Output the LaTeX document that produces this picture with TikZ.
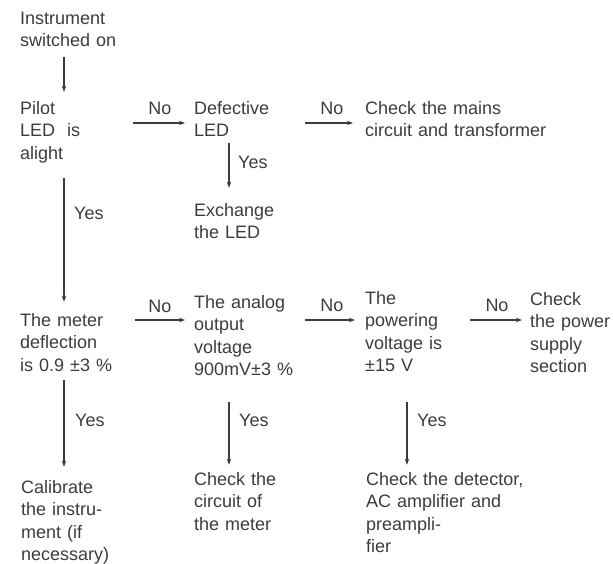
\documentclass[tikz,border=0pt]{standalone}
\usepackage{fontspec}
\setmainfont{Liberation Sans}
\usetikzlibrary{arrows.meta}
\definecolor{ink}{HTML}{3C3C3C}
\begin{document}
\begin{tikzpicture}[x=1pt,y=-1pt,
  txt/.style={inner sep=0pt, anchor=base west, align=left, text=ink, font=\fontsize{18}{22.5}\selectfont},
  colA/.style={txt, text width=113pt},
  colB/.style={txt, text width=111pt},
  colC/.style={txt, text width=105pt},
  colD/.style={txt, text width=83pt},
  colW/.style={txt, text width=200pt},
  lab/.style={inner sep=0pt, text=ink, font=\fontsize{18}{22.5}\selectfont},
  arr/.style={draw=ink, line width=1.1pt, -{Stealth[length=6pt,width=4.5pt]}}]
\useasboundingbox (0,0) rectangle (613,563);
% nodes
\node[colA] (instr) at (20,24) {Instrument\\switched on};
\node[colA] (pilot) at (20,114) {Pilot\\LED\ \ is\\alight};
\node[colB] (defect) at (194,114) {Defective\\LED};
\node[colW] (mains) at (365,114) {Check the mains\\circuit and transformer};
\node[colB] (exch) at (194,216) {Exchange\\the LED};
\node[colA] (meter) at (20,326) {The meter\\deflection\\is 0.9 ±3 \%};
\node[colB] (analog) at (194,308) {The analog\\output\\voltage\\900mV±3 \%};
\node[colC] (power) at (365,304) {The\\powering\\voltage is\\±15 V};
\node[colD] (psu) at (530,305) {Check\\the power\\supply\\section};
\node[colA] (calib) at (21,493) {Calibrate\\the instru-\\ment (if\\necessary)};
\node[colB] (circ) at (194,485) {Check the\\circuit of\\the meter};
\node[colW] (detect) at (366,485) {Check the detector,\\AC amplifier and\\preampli-\\fier};
% guide coordinates
\coordinate (x1) at (64,0);
\coordinate (x2) at (229,0);
\coordinate (x3) at (407,0);
\coordinate (y1) at (0,123);
\coordinate (y2) at (0,320);
% connectors
\draw[arr, shorten <=10pt, shorten >=9pt] (instr.south -| x1) -- (pilot.north -| x1);
\draw[arr, shorten >=9pt] (pilot.east |- y1) -- (defect.west |- y1);
\draw[arr, shorten >=12pt] (defect.east |- y1) -- (mains.west |- y1);
\draw[arr, shorten <=6.5pt, shorten >=15pt] (defect.south -| x2) -- (exch.north -| x2);
\draw[arr, shorten <=15pt, shorten >=11pt] (pilot.south -| x1) -- (meter.north -| x1);
\draw[arr, shorten <=2pt, shorten >=9pt] (meter.east |- y2) -- (analog.west |- y2);
\draw[arr, shorten >=10pt] (analog.east |- y2) -- (power.west |- y2);
\draw[arr, shorten >=8pt] (power.east |- y2) -- (psu.west |- y2);
\draw[arr, shorten <=9pt, shorten >=13pt] (meter.south -| x1) -- (calib.north -| x1);
\draw[arr, shorten <=26pt, shorten >=7pt] (analog.south -| x2) -- (circ.north -| x2);
\draw[arr, shorten <=30pt, shorten >=7pt] (power.south -| x3) -- (detect.north -| x3);
% labels
\node[lab, anchor=base] (no1) at (160,114) {No};
\node[lab, anchor=base] (no2) at (332,114) {No};
\node[lab, anchor=base] (no3) at (160,312) {No};
\node[lab, anchor=base] (no4) at (332,311) {No};
\node[lab, anchor=base] (no5) at (497,311) {No};
\node[lab, anchor=base west] (yes1) at (238,168) {Yes};
\node[lab, anchor=base west] (yes2) at (74,219) {Yes};
\node[lab, anchor=base west] (yes3) at (75,426) {Yes};
\node[lab, anchor=base west] (yes4) at (239,426) {Yes};
\node[lab, anchor=base west] (yes5) at (417,426) {Yes};
\end{tikzpicture}
\end{document}
